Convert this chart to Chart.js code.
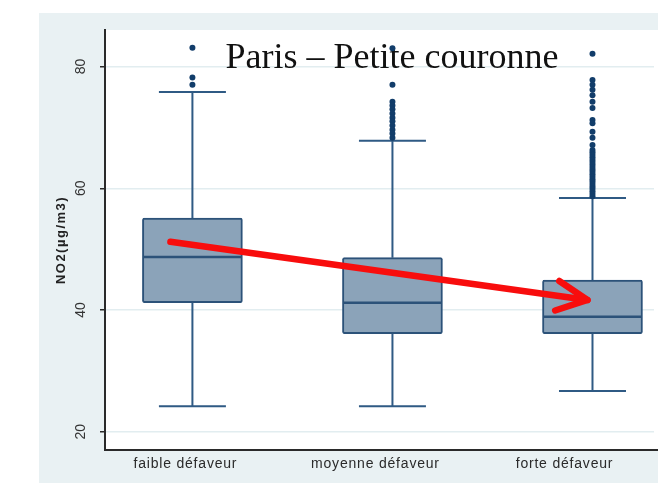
<!DOCTYPE html>
<html>
<head>
<meta charset="utf-8">
<script src="https://cdn.jsdelivr.net/npm/chart.js@4.4.1/dist/chart.umd.min.js"></script>
<style>
html,body{margin:0;padding:0;background:#ffffff;}
#wrap{width:658px;height:487px;position:relative;}
</style>
</head>
<body>
<div id="wrap"><canvas id="c" width="658" height="487"></canvas></div>
<script>
// ---- data ----
const titleText = 'Paris – Petite couronne';
const yTitle = 'NO2(µg/m3)';
const categories = ['faible défaveur', 'moyenne défaveur', 'forte défaveur'];
const categoryPos = [1, 2, 3];
const labelPos = [0.965, 1.915, 2.86];
const q1 = [41.2, 36.1, 36.1];
const median = [48.7, 41.2, 38.9];
const q3 = [55.1, 48.6, 44.9];
const whiskerLow = [24.2, 24.2, 26.7];
const whiskerHigh = [75.8, 67.8, 58.4];
const outliers1 = [83.1, 78.2, 77.0];
const outliers2 = [83.0, 77.0, 74.2, 73.6, 73.0, 72.3, 71.6, 71.0, 70.3, 69.6, 69.0, 68.3];
const outliers3 = [82.1, 77.8, 77.0, 76.2, 75.3, 74.2, 73.2, 71.2, 70.7, 69.3, 68.3, 67.1,
  66.3, 65.9, 65.5, 65.1, 64.7, 64.3, 63.9, 63.5, 63.1, 62.7, 62.3, 61.9, 61.5, 61.1,
  60.7, 60.3, 59.9, 59.5, 59.1, 58.7];
const yTicks = [20, 40, 60, 80];
const arrowFrom = [0.89, 51.2];
const arrowTo = [2.975, 41.65];

// ---- build datasets ----
const boxData = categoryPos.map((x, i) => ({ x: x, y: [q1[i], q3[i]] }));
const outlierData = [];
[outliers1, outliers2, outliers3].forEach((arr, i) => {
  arr.forEach(v => outlierData.push({ x: categoryPos[i], y: v }));
});

const BOX_BORDER = '#2c5279';
const WHISKER = '#2f5a84';

const decor = {
  id: 'decor',
  beforeDraw(chart) {
    const ctx = chart.ctx;
    const a = chart.chartArea;
    ctx.save();
    ctx.fillStyle = '#ffffff';
    ctx.fillRect(0, 0, chart.width, chart.height);
    ctx.fillStyle = '#e9f1f3';
    ctx.fillRect(39, 13, chart.width - 39, 470);
    ctx.fillStyle = '#ffffff';
    ctx.fillRect(a.left, a.top, chart.width - a.left, a.bottom - a.top);
    ctx.restore();
  },
  beforeDatasetsDraw(chart) {
    const ctx = chart.ctx;
    const xs = chart.scales.x, ys = chart.scales.y;
    ctx.save();
    // whiskers and caps
    ctx.strokeStyle = WHISKER;
    ctx.lineWidth = 2;
    const capHalf = 33.5;
    categoryPos.forEach((c, i) => {
      const px = xs.getPixelForValue(c);
      const yq3 = ys.getPixelForValue(q3[i]);
      const yq1 = ys.getPixelForValue(q1[i]);
      const yh = ys.getPixelForValue(whiskerHigh[i]);
      const yl = ys.getPixelForValue(whiskerLow[i]);
      ctx.beginPath();
      ctx.moveTo(px, yq3); ctx.lineTo(px, yh);
      ctx.moveTo(px, yq1); ctx.lineTo(px, yl);
      ctx.moveTo(px - capHalf, yh); ctx.lineTo(px + capHalf, yh);
      ctx.moveTo(px - capHalf, yl); ctx.lineTo(px + capHalf, yl);
      ctx.stroke();
    });
    // title
    ctx.fillStyle = '#111111';
    ctx.font = '36px "Liberation Serif", "Times New Roman", serif';
    ctx.textAlign = 'center';
    ctx.textBaseline = 'alphabetic';
    ctx.fillText(titleText, 392, 68);
    ctx.restore();
  },
  afterDatasetsDraw(chart) {
    const ctx = chart.ctx;
    const xs = chart.scales.x, ys = chart.scales.y;
    ctx.save();
    // medians
    ctx.strokeStyle = BOX_BORDER;
    ctx.lineWidth = 2.5;
    categoryPos.forEach((c, i) => {
      const px = xs.getPixelForValue(c);
      const ym = ys.getPixelForValue(median[i]);
      ctx.beginPath();
      ctx.moveTo(px - 49, ym); ctx.lineTo(px + 49, ym);
      ctx.stroke();
    });
    ctx.restore();
  },
  afterDraw(chart) {
    const ctx = chart.ctx;
    const xs = chart.scales.x, ys = chart.scales.y;
    const a = chart.chartArea;
    ctx.save();
    // extend bottom axis line to the right edge
    ctx.strokeStyle = '#2a2a2a';
    ctx.lineWidth = 2;
    ctx.beginPath();
    ctx.moveTo(a.right - 2, a.bottom);
    ctx.lineTo(chart.width, a.bottom);
    ctx.stroke();
    // y tick labels (rotated)
    ctx.fillStyle = '#333333';
    ctx.font = '14px "Liberation Sans", Arial, sans-serif';
    ctx.textAlign = 'center';
    ctx.textBaseline = 'middle';
    yTicks.forEach(t => {
      const py = ys.getPixelForValue(t);
      ctx.save();
      ctx.translate(81, py);
      ctx.rotate(-Math.PI / 2);
      ctx.fillText(String(t), 0, 0);
      ctx.restore();
    });
    // y axis title
    ctx.save();
    ctx.font = 'bold 13px "Liberation Sans", Arial, sans-serif';
    ctx.fillStyle = '#222222';
    ctx.textAlign = 'center';
    ctx.textBaseline = 'middle';
    ctx.translate(61, 240);
    ctx.rotate(-Math.PI / 2);
    try { ctx.letterSpacing = '1.5px'; } catch (e) {}
    ctx.fillText(yTitle, 0, 0);
    ctx.restore();
    // x labels
    ctx.save();
    ctx.font = '14px "Liberation Sans", Arial, sans-serif';
    ctx.fillStyle = '#2a2a2a';
    ctx.textAlign = 'center';
    ctx.textBaseline = 'middle';
    try { ctx.letterSpacing = '0.8px'; } catch (e) {}
    categories.forEach((c, i) => {
      ctx.fillText(c, xs.getPixelForValue(labelPos[i]), 464);
    });
    ctx.restore();
    // red arrow
    const x0 = xs.getPixelForValue(arrowFrom[0]), y0 = ys.getPixelForValue(arrowFrom[1]);
    const x1 = xs.getPixelForValue(arrowTo[0]), y1 = ys.getPixelForValue(arrowTo[1]);
    const ang = Math.atan2(y0 - y1, x0 - x1);
    const head = 34, spread = 26 * Math.PI / 180;
    ctx.strokeStyle = '#f80d0d';
    ctx.lineWidth = 6.5;
    ctx.lineCap = 'round';
    ctx.lineJoin = 'round';
    ctx.beginPath();
    ctx.moveTo(x0, y0); ctx.lineTo(x1, y1);
    ctx.stroke();
    ctx.beginPath();
    ctx.moveTo(x1 + head * Math.cos(ang - spread), y1 + head * Math.sin(ang - spread));
    ctx.lineTo(x1, y1);
    ctx.lineTo(x1 + head * Math.cos(ang + spread), y1 + head * Math.sin(ang + spread));
    ctx.stroke();
    ctx.restore();
  }
};

new Chart(document.getElementById('c'), {
  type: 'bar',
  data: {
    datasets: [
      {
        type: 'bar',
        data: boxData,
        backgroundColor: '#8ba3b9',
        borderColor: BOX_BORDER,
        borderWidth: 2,
        borderSkipped: false,
        borderRadius: 2,
        barThickness: 100,
        order: 2
      },
      {
        type: 'scatter',
        data: outlierData,
        backgroundColor: '#123d6a',
        borderColor: '#123d6a',
        pointRadius: 3,
        pointBorderWidth: 0,
        showLine: false,
        order: 1
      }
    ]
  },
  options: {
    responsive: false,
    animation: false,
    events: [],
    layout: { padding: { left: 85, top: 30, right: 0, bottom: 17 } },
    plugins: { legend: { display: false }, tooltip: { enabled: false }, title: { display: false } },
    scales: {
      x: {
        type: 'linear',
        offset: false,
        min: 0.563,
        max: 3.3075,
        grid: { display: false, drawTicks: false, offset: false },
        border: { display: true, color: '#2a2a2a', width: 2 },
        ticks: { display: false },
        afterFit(s) { s.height = 20; }
      },
      y: {
        type: 'linear',
        min: 17,
        max: 86,
        afterBuildTicks(s) { s.ticks = yTicks.map(v => ({ value: v })); },
        grid: { color: '#e2edf0', lineWidth: 1.5, drawTicks: true, tickLength: 5, tickColor: '#2a2a2a', tickWidth: 1.5 },
        border: { display: true, color: '#2a2a2a', width: 2 },
        ticks: { display: false },
        afterFit(s) { s.width = 20; }
      }
    }
  },
  plugins: [decor]
});
</script>
</body>
</html>
